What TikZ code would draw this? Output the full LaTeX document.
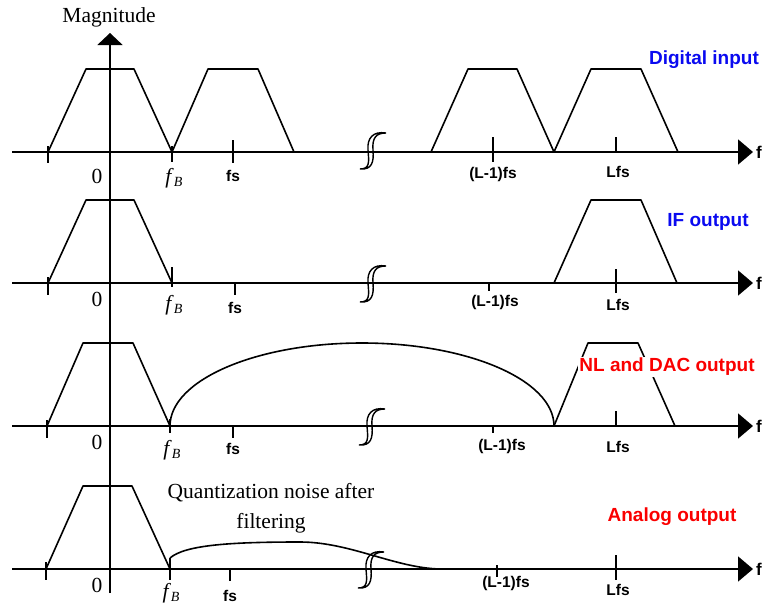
\documentclass[tikz,border=0pt]{standalone}
\usepackage{fontspec}
\setmainfont{Liberation Serif}
\setsansfont{Liberation Sans}
\usetikzlibrary{arrows.meta}
\definecolor{labblue}{RGB}{10,10,240}
\definecolor{labred}{RGB}{250,0,0}
\tikzset{
  sig/.style={line width=1.6pt, line join=round},
  haxis/.style={line width=1.8pt, -{Triangle[width=25pt,length=15pt]}},
  vaxis/.style={line width=1.8pt, -{Triangle[width=25pt,length=12pt]}},
  tickmark/.style={line width=1.5pt},
  brk/.style={line width=1.4pt},
  serif/.style={font=\fontsize{21.5}{23}\selectfont, inner sep=0pt},
  ticklab/.style={font=\sffamily\bfseries\fontsize{15.5}{15.5}\selectfont, inner sep=0pt},
  flab/.style={font=\sffamily\bfseries\fontsize{17}{17}\selectfont, inner sep=0pt, anchor=west},
  title/.style={font=\sffamily\bfseries\fontsize{19}{19}\selectfont, inner sep=1pt},
  breaksym/.pic={
    \draw[brk] (14,-17) .. controls (1,-19) and (-5,-12) .. (-4,0)
      .. controls (-3,12) and (-2,19) .. (-12,19)
      .. controls (0,20) and (2,12) .. (1,0)
      .. controls (0,-12) and (4,-17) .. (14,-17);
  }
}
\newcommand{\fBlab}{\textit{f}\raisebox{-0.35ex}{\fontsize{14}{14}\selectfont\textit{B}}}
\begin{document}
\begin{tikzpicture}[x=1pt,y=-1pt]
\useasboundingbox (0,0) rectangle (764,605);

% vertical axis
\coordinate (vb) at (110,593);
\coordinate (vt) at (110,33);
\draw[vaxis] (vb) -- (vt);
\node[serif] (mag) at (109,17) {Magnitude};

% ================= Panel 1 =================
\coordinate (a1s) at (12,152);
\coordinate (a1e) at (753,152);
\draw[haxis] (a1s) -- (a1e);
\node[flab] (f1) at (756,152) {f};
\draw[tickmark] (48,146) -- (48,163);
\draw[tickmark] (172,146) -- (172,162);
\draw[tickmark] (233,140) -- (233,163);
\draw[tickmark] (493,137) -- (493,162);
\draw[tickmark] (616,137) -- (616,152);
\draw[sig] (48,152) -- (86,69) -- (134,69) -- (172,152) -- (208,69) -- (258,69) -- (294,152);
\draw[sig] (431,152) -- (468,69) -- (517,69) -- (554,152) -- (591,69) -- (641,69) -- (678,152);
\pic at (372,150) {breaksym};
\node[serif] (z1) at (97,176) {0};
\node[serif] (fb1) at (174,178) {\fBlab};
\node[ticklab] (fs1) at (233,176) {fs};
\node[ticklab] (lm1) at (493,174) {(L-1)fs};
\node[ticklab] (l1) at (618,172) {Lfs};
\node[title, text=labblue] (t1) at (704,60) {Digital input};

% ================= Panel 2 =================
\coordinate (a2s) at (12,283);
\coordinate (a2e) at (753,283);
\draw[haxis] (a2s) -- (a2e);
\node[flab] (f2) at (756,283) {f};
\draw[tickmark] (48,277) -- (48,295);
\draw[tickmark] (172,267) -- (172,287);
\draw[tickmark] (235,283) -- (235,295);
\draw[tickmark] (489,283) -- (489,291);
\draw[tickmark] (616,269) -- (616,293);
\draw[sig] (48,283) -- (86,200) -- (134,200) -- (172,283);
\draw[sig] (554,283) -- (591,200) -- (641,200) -- (677,283);
\pic at (372,283) {breaksym};
\node[serif] (z2) at (97,299) {0};
\node[serif] (fb2) at (174,305) {\fBlab};
\node[ticklab] (fs2) at (235,308) {fs};
\node[ticklab] (lm2) at (495,302) {(L-1)fs};
\node[ticklab] (l2) at (618,305) {Lfs};
\node[title, text=labblue] (t2) at (708,222) {IF output};

% ================= Panel 3 =================
\coordinate (a3s) at (12,426);
\coordinate (a3e) at (753,426);
\draw[haxis] (a3s) -- (a3e);
\node[flab] (f3) at (756,426) {f};
\draw[tickmark] (47,420) -- (47,438);
\draw[tickmark] (170,419) -- (170,433);
\draw[tickmark] (233,426) -- (233,438);
\draw[tickmark] (493,426) -- (493,433);
\draw[tickmark] (616,411) -- (616,426);
\draw[sig] (47,426) -- (83,343) -- (133,343) -- (170,426);
\coordinate (n3s) at (170,426);
\coordinate (n3p) at (362,343);
\coordinate (n3e) at (554,426);
\draw[sig] (n3s) .. controls (170,380.2) and (255.9,343) .. (n3p)
               .. controls (468.1,343) and (554,380.2) .. (n3e);
\draw[sig] (554,426) -- (588,343) -- (638,343) -- (675,426);
\pic at (371,426) {breaksym};
\node[serif] (z3) at (97,442) {0};
\node[serif] (fb3) at (172,450) {\fBlab};
\node[ticklab] (fs3) at (233,449) {fs};
\node[ticklab] (lm3) at (502,446) {(L-1)fs};
\node[ticklab] (l3) at (618,447) {Lfs};
\node[title, text=labred, fill=white] (t3) at (667,367) {NL and DAC output};

% ================= Panel 4 =================
\coordinate (a4s) at (12,569);
\coordinate (a4e) at (753,569);
\draw[haxis] (a4s) -- (a4e);
\node[flab] (f4) at (756,569) {f};
\draw[tickmark] (46,562) -- (46,580);
\draw[tickmark] (170,558) -- (170,580);
\draw[tickmark] (230,569) -- (230,581);
\draw[tickmark] (497,565) -- (497,577);
\draw[tickmark] (616,555) -- (616,580);
\draw[sig] (46,569) -- (83,486) -- (132,486) -- (170,569);
\coordinate (q4s) at (170,558);
\coordinate (q4m) at (300,542);
\coordinate (q4e) at (440,569);
\draw[sig] (q4s) .. controls (185,545) and (230,542) .. (q4m)
               .. controls (350,542) and (395,568) .. (q4e);
\pic at (370,569) {breaksym};
\node[serif] (z4) at (97,585) {0};
\node[serif] (fb4) at (171,593) {\fBlab};
\node[ticklab] (fs4) at (230,596) {fs};
\node[ticklab] (lm4) at (506,583) {(L-1)fs};
\node[ticklab] (l4) at (618,590) {Lfs};
\node[serif, align=center, font=\fontsize{21.5}{30}\selectfont] (qn) at (271,508) {Quantization noise after\\filtering};
\node[title, text=labred] (t4) at (672,517) {Analog output};
\end{tikzpicture}
\end{document}
